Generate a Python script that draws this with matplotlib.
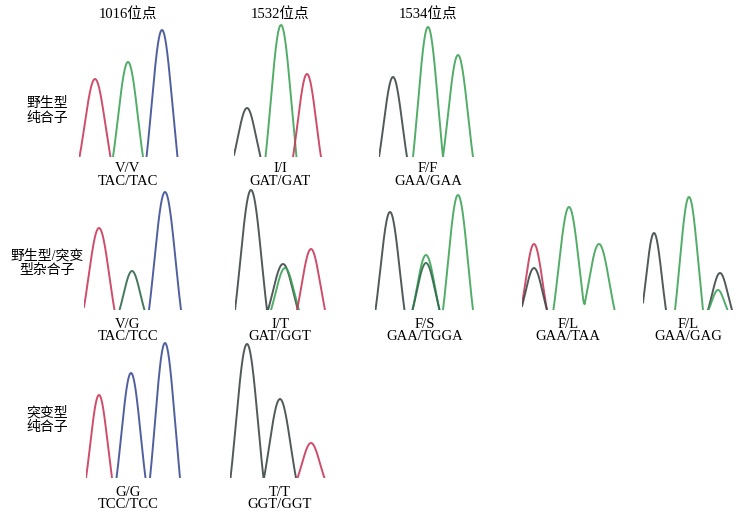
import numpy as np
import matplotlib
matplotlib.use("Agg")
import matplotlib.pyplot as plt

W, H = 741, 514
FAM = ['Liberation Serif', 'Noto Sans CJK SC']

# colours of the four channels
COL = {'R': '#c93a5a', 'G': '#3fa458', 'B': '#3d4f95', 'K': '#3e4848', 'g': '#2f6a4c'}

# site titles
sites = ['1016位点', '1532位点', '1534位点']
# row labels
rows = ['野生型\n纯合子', '野生型/突变\n型杂合子', '突变型\n纯合子']

# Each panel: genotype, codons, list of peaks (channel, centre, height, half-width)
genotypes = ['V/V', 'I/I', 'F/F', 'V/G', 'I/T', 'F/S', 'F/L', 'F/L', 'G/G', 'T/T']
codons = ['TAC/TAC', 'GAT/GAT', 'GAA/GAA', 'TAC/TCC', 'GAT/GGT', 'GAA/TGGA',
          'GAA/TAA', 'GAA/GAG', 'TCC/TCC', 'GGT/GGT']
peaks = [
    [('R', 16, 78, 15.5), ('G', 49, 95, 15), ('B', 83, 127, 15.5)],
    [('K', 13, 49, 13.5), ('G', 47, 132, 15.5), ('R', 73, 83, 14)],
    [('K', 14, 80, 14), ('G', 49, 130, 15), ('G', 79, 102, 15)],
    [('R', 15, 82, 15.5), ('g', 48, 39, 12.5), ('B', 81, 118, 16)],
    [('K', 16, 120, 16), ('K', 48, 46, 15), ('G', 50, 42, 14), ('R', 76, 61, 14)],
    [('K', 15, 98, 14.5), ('G', 51, 55, 13.5), ('g', 51, 47, 13.5), ('G', 83, 115, 15)],
    [('R', 12, 66, 13), ('K', 12, 42, 13), ('G', 47, 103, 15.6), ('G', 77, 66, 15.6)],
    [('K', 11, 77, 12), ('G', 46, 113, 14), ('K', 77, 37, 12), ('G', 75, 20, 9.5)],
    [('R', 13, 83, 13), ('B', 45, 105, 14.5), ('B', 79, 135, 15)],
    [('K', 17, 134, 16.5), ('K', 50, 79, 16), ('R', 81, 35, 13.5)],
]

# layout (pixels): panel left edge, baseline y
origins = [(79, 157), (234, 157), (379, 157),
           (84, 310), (235, 310), (375, 310), (522, 310), (643, 310),
           (86, 478), (230, 478)]
label_x = [128, 280, 428, 128, 280, 425, 568, 688, 128, 280]
label_y = [167, 167, 167, 323, 323, 323, 323, 323, 491, 491]

fig = plt.figure(figsize=(W / 100, H / 100), dpi=100)
fig.patch.set_facecolor('white')

PW, PH = 100, 145
K_TR = 1.5  # truncation in sigmas


def trunc_gauss(x, c, h, hw):
    s = hw / K_TR
    e = np.exp(-K_TR ** 2 / 2)
    y = (np.exp(-(x - c) ** 2 / (2 * s * s)) - e) / (1 - e) * h
    y[np.abs(x - c) > hw] = 0
    return y


for (x0, yb), pk in zip(origins, peaks):
    ax = fig.add_axes([x0 / W, 1 - yb / H, PW / W, PH / H])
    ax.set_xlim(0, PW)
    ax.set_ylim(0, PH)
    ax.axis('off')
    x = np.linspace(-5, PW, 2000)
    chans = []
    for p in pk:
        if p[0] not in chans:
            chans.append(p[0])
    for ch in chans:
        ys = np.zeros_like(x)
        mask = np.zeros_like(x, dtype=bool)
        for c_, cen, h, hw in pk:
            if c_ == ch:
                ys += trunc_gauss(x, cen, h, hw)
                mask |= np.abs(x - cen) <= hw
        yy = np.where(mask, ys, np.nan)
        ax.plot(x, yy, color=COL[ch], lw=1.4, alpha=0.9, solid_capstyle='round')

for i, s in enumerate(sites):
    fig.text(label_x[i] / W, 1 - 15 / H, s, ha='center', va='center',
             fontsize=10.5, family=FAM)

row_y = [111, 263, 420]
for r, yv in zip(rows, row_y):
    fig.text(47 / W, 1 - yv / H, r, ha='center', va='center', fontsize=10,
             family=FAM, linespacing=1.15)

for gt, cd, lx, ly in zip(genotypes, codons, label_x, label_y):
    fig.text(lx / W, 1 - (ly + 1) / H, gt, ha='center', va='center',
             fontsize=10.5, family=FAM)
    fig.text(lx / W, 1 - (ly + 14) / H, cd, ha='center', va='center',
             fontsize=10.5, family=FAM)

fig.savefig('out.png', dpi=100, facecolor='white')
